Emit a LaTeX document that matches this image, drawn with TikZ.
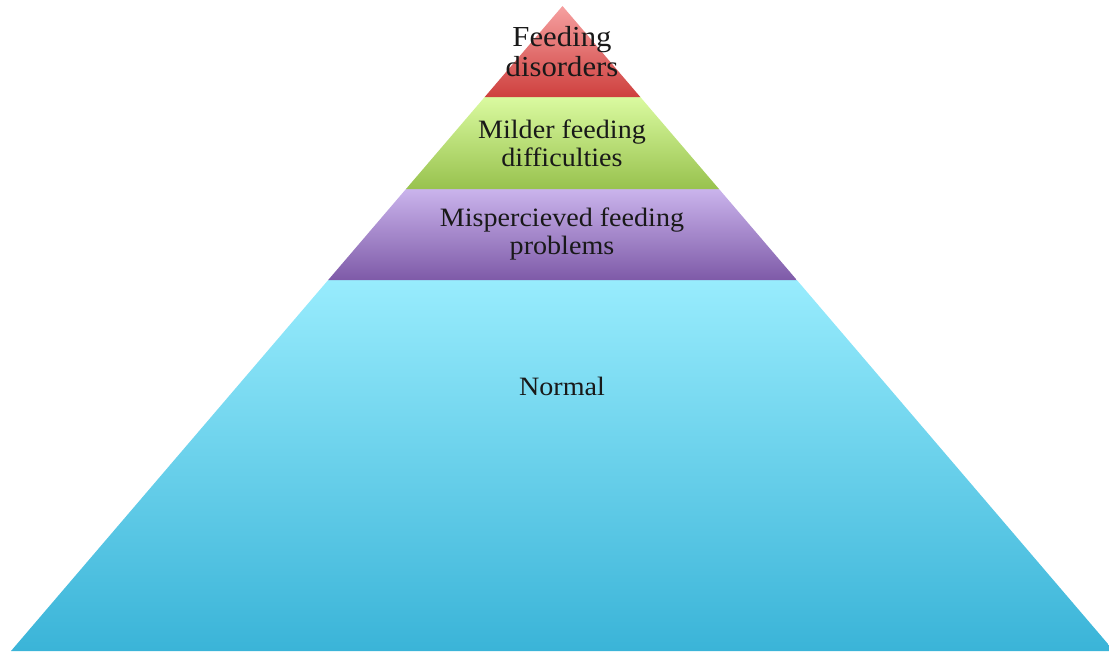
\documentclass[tikz,border=0pt]{standalone}
\usepackage{fontspec}
\setmainfont{Liberation Serif}[FakeStretch=1.06]
\begin{document}
\begin{tikzpicture}[x=1pt,y=-1pt,
  layertext/.style={align=center,text=black!90,inner sep=0pt},
  bigtext/.style={layertext,font=\fontsize{29}{30}\selectfont},
  midtext/.style={layertext,font=\fontsize{26.5}{28}\selectfont}]
  \useasboundingbox (0,0) rectangle (1109,651);
  \clip (0,0) rectangle (1109,651);
  % pyramid layers, bottom to top
  \shade[top color={rgb,255:red,152;green,236;blue,253},bottom color={rgb,255:red,58;green,180;blue,216}]
    (328.2,280) -- (796.8,280) -- (1114,651) -- (11,651) -- cycle;
  \shade[top color={rgb,255:red,202;green,180;blue,236},bottom color={rgb,255:red,126;green,90;blue,168}]
    (406,189) -- (719,189) -- (796.8,280) -- (328.2,280) -- cycle;
  \shade[top color={rgb,255:red,218;green,250;blue,160},bottom color={rgb,255:red,152;green,194;blue,78}]
    (484.7,97) -- (640.3,97) -- (719,189) -- (406,189) -- cycle;
  \shade[top color={rgb,255:red,246;green,160;blue,160},bottom color={rgb,255:red,206;green,64;blue,62}]
    (562.5,6) -- (640.3,97) -- (484.7,97) -- cycle;
  % labels
  \node[bigtext] (top) at (562,52) {Feeding\\disorders};
  \node[midtext] (mild) at (562,143) {Milder feeding\\difficulties};
  \node[midtext] (misp) at (562,234) {Mispercieved feeding\\problems};
  \node[midtext] (norm) at (562,386) {Normal};
\end{tikzpicture}
\end{document}
